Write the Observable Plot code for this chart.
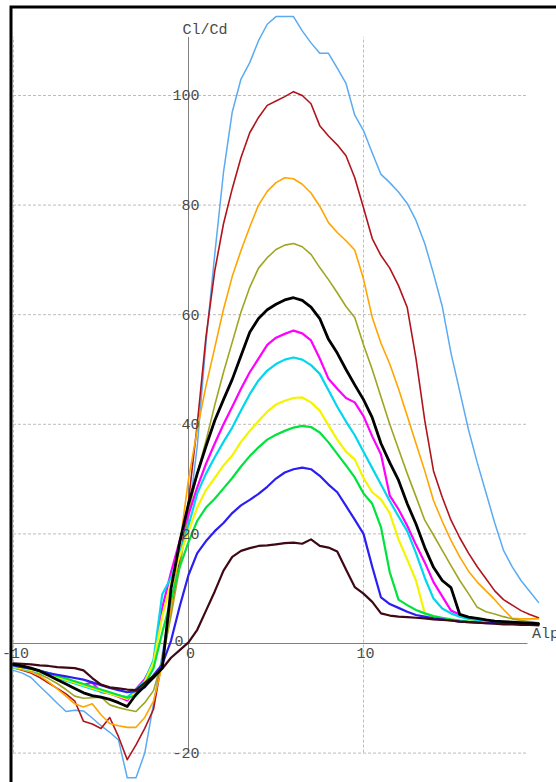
<!DOCTYPE html>
<html>
<head>
<meta charset="utf-8">
<script src="https://cdn.jsdelivr.net/npm/d3@7"></script>
<script src="https://cdn.jsdelivr.net/npm/@observablehq/plot@0.6"></script>
<style>
  html, body { margin: 0; padding: 0; background: #fff; }
  #chart svg { display: block; }
</style>
</head>
<body>
<div id="chart"></div>
<script>
// Angle of attack (deg), shared by every polar
const alpha = [-10,-9.5,-9,-8.5,-8,-7.5,-7,-6.5,-6,-5.5,-5,-4.5,-4,-3.5,-3,-2.5,-2,-1.5,-1,-0.5,
  0,0.5,1,1.5,2,2.5,3,3.5,4,4.5,5,5.5,6,6.5,7,7.5,8,8.5,9,9.5,10,10.5,11,11.5,12,12.5,13,13.5,14,14.5,
  15,15.5,16,16.5,17,17.5,18,18.5,19,19.5,20];

// Cl/Cd for each polar
const lightBlue = [-4.9,-5.4,-6.2,-7.8,-9.3,-10.9,-12.4,-12.2,-12.3,-13.6,-15.0,-16.2,-17.6,-24.5,-24.5,-20,-11,-2,8,15,
  23,36,55,71,86,97,103,106,110,113,114.4,114.4,114.4,111.8,109.6,107.7,107.7,105,102.2,96.4,
  93.6,89.5,85.6,84.1,82.4,80.3,77.2,73,67.5,61.5,53,46,39,33,27.5,22,17,14,11.5,9.5,7.5];
const darkRed = [-4.4,-4.9,-5.4,-6.2,-7.2,-8.2,-9.2,-10.5,-14.2,-14.7,-15.5,-13.5,-17,-21.2,-18.5,-15.5,-12,-3,6,15,
  26,40,56,68,76.6,83,88.7,93.2,96,98.2,99,99.8,100.7,100,98.5,94.5,92.6,91,89,85,
  79.5,73.9,70.8,68.5,65.3,61.3,52,40.7,31.5,26.7,22.5,19.3,16.5,14,11.8,9.6,8,7,6,5.3,4.7];
const orange = [-4.4,-4.8,-5.2,-5.9,-7,-8.3,-9.6,-11,-11.6,-11,-13,-14.6,-15,-15.3,-15.3,-13.5,-10.5,-4,6,18,
  30,39,47,54,61,67,71.7,76,80,82.5,84.1,85,84.8,83.8,82.2,79.8,76.8,75,73.5,71.8,
  66.5,59.5,54.8,51,46.5,41.5,36.5,31.5,26.1,22.3,18.8,15.8,13.2,11.2,9.6,8,6.2,4.6,4.5,4.5,4.5];
const olive = [-4.2,-4.5,-4.9,-5.6,-6.4,-7.3,-8.4,-9.6,-10,-9.9,-9.8,-11.2,-11.7,-12.1,-12.4,-10.8,-8.6,-3,5,14,
  24,31,37,43.5,49.5,55,60.5,65,68.5,70.4,71.9,72.7,73,72.4,71,68.6,66.4,64,61.5,59.5,
  54.5,50,45,40,35.5,31,26.8,22.5,19.8,17,14.2,11.5,9.1,6.6,5.8,5.4,4.9,4.5,4.2,4,3.8];
const black = [-3.8,-4.1,-4.5,-5,-5.8,-6.6,-7.4,-8.2,-9,-9.5,-9.8,-10.2,-10.8,-11.5,-9.3,-7.8,-6.2,-4.5,10,18.5,
  25.5,31,36,40.7,44.5,48.2,52.5,56.8,59.3,60.9,61.9,62.7,63.1,62.6,61.4,59.3,55.5,53,50,47.2,
  44.5,41.2,36.5,33,29.8,25.5,21.8,17.5,13.9,11.5,10.2,5.3,4.8,4.6,4.3,4.1,4,3.9,3.8,3.7,3.6];
const magenta = [-4.2,-4.4,-4.7,-5.1,-5.6,-6.1,-6.6,-7.1,-7.6,-7.1,-8.9,-9.1,-9.7,-10.4,-8.3,-6.5,-3.5,6.5,13,18.8,
  23.5,28.5,32.8,36.5,40,43.2,46.5,49.5,52,54.5,55.8,56.5,57.1,56.6,55.3,52,48.3,46.5,44.8,44,
  41.5,37.8,34.5,27,24.5,21.5,18,14.8,11.2,8.6,6,5.3,4.8,4.5,4.2,4,3.9,3.8,3.7,3.6,3.6];
const cyan = [-4.4,-4.6,-4.9,-5.3,-5.8,-6.3,-6.8,-7.3,-7.8,-8.3,-8.8,-9.1,-9.5,-9.8,-8.5,-6.8,-3,9,12,16.5,
  21.5,27.4,31,34,36.8,39.4,42.5,45.5,48,49.8,51,51.8,52.2,51.8,50.8,49.2,46.2,43.2,40.5,38,
  35,32,29,26,23.2,20.5,16.5,12,8.2,6.4,5.5,4.9,4.5,4.2,4,3.9,3.8,3.7,3.6,3.6,3.6];
const yellow = [-4.3,-4.5,-4.8,-5.2,-5.6,-6.1,-6.6,-7.1,-7.6,-8.1,-8.6,-9.1,-9.6,-10.1,-9,-7,-3.5,5,11,16,
  20.5,24.8,28,30.2,32.5,34.3,36.8,38.8,40.6,42.3,43.6,44.3,44.8,44.9,44,42.5,39.8,37.2,35,33.6,
  30.2,27.6,26.3,23.8,19,15.3,11.5,5.5,4.9,4.5,4.2,4.1,4,3.9,3.8,3.8,3.7,3.7,3.6,3.6,3.6];
const green = [-4.1,-4.3,-4.6,-5,-5.4,-5.9,-6.4,-6.9,-7.4,-7.9,-8.4,-8.9,-9.4,-9.9,-9.5,-7.5,-4.5,2,8,14,
  18.5,22.4,24.8,26.4,28.3,30.2,32.3,34.2,35.8,37.2,38.1,38.8,39.4,39.7,39.5,38.5,36.7,34.6,32.5,30.3,
  27.4,25.5,21.2,13,8,7,6.1,5.5,5,4.7,4.4,4.2,4,3.9,3.8,3.7,3.7,3.6,3.6,3.6,3.6];
const blue = [-4,-4.3,-4.6,-5,-5.4,-5.7,-6,-6.3,-6.6,-7.1,-7.6,-8.1,-8.5,-8.9,-8.7,-8,-5.8,-3.8,0.5,6.8,
  12.5,16.5,18.7,20.5,22,23.8,25.2,26.2,27.3,28.6,30.1,31.2,31.8,32.1,31.8,30.6,29,27.6,25.1,22.6,
  20,14,8.4,7.2,6.5,5.8,5.2,4.9,4.6,4.4,4.2,4,3.9,3.8,3.7,3.7,3.6,3.6,3.6,3.6,3.6];
const brown = [-3.6,-3.7,-3.8,-4,-4.1,-4.3,-4.4,-4.5,-4.9,-6.3,-7.5,-8,-8.2,-8.4,-8.5,-7.2,-5.9,-4.6,-2.6,-1.2,
  0.2,2.5,6,9.5,13.3,15.8,16.9,17.4,17.8,17.9,18.1,18.3,18.4,18.2,19,17.8,17.5,16.8,13.5,10.3,
  9.1,7.6,5.5,5.1,4.9,4.8,4.7,4.6,4.4,4.3,4.2,4,3.9,3.8,3.7,3.6,3.5,3.5,3.4,3.4,3.3];

// Axis ticks and grid
const xTicks = [-10, 0, 10];
const xGrid = [-10, 10];
const yGrid = [-20, 20, 40, 60, 80, 100];
const yTickLabels = [100, 80, 60, 40, 20, -20];
const yZeroLabel = [0];
const xAxisEnd = 19.4;
const yAxisTop = 110.6;

// Drawing order, colour and weight of each polar
const polars = [
  {values: lightBlue, color: "#5aabf2", width: 1.5},
  {values: darkRed,   color: "#b0141c", width: 1.6},
  {values: orange,    color: "#ffa500", width: 1.6},
  {values: olive,     color: "#9fa521", width: 1.6},
  {values: magenta,   color: "#ff00ff", width: 2.2},
  {values: cyan,      color: "#00d6ee", width: 2.2},
  {values: yellow,    color: "#f4f400", width: 2.2},
  {values: green,     color: "#00e23c", width: 2.2},
  {values: blue,      color: "#2a1ef2", width: 2.2},
  {values: brown,     color: "#3e0814", width: 2.2},
  {values: black,     color: "#000000", width: 2.8}
];

const lineMarks = polars.map(p =>
  Plot.line(alpha.map((a, i) => ({alpha: a, value: p.values[i]})), {
    x: "alpha", y: "value", stroke: p.color, strokeWidth: p.width, strokeLinejoin: "round"
  })
);

const gridStyle = {stroke: "#bdbdbd", strokeWidth: 1, strokeDasharray: "3,2"};
const labelFill = "#4a4a4a";

const chart = Plot.plot({
  width: 556,
  height: 782,
  margin: 0,
  x: {domain: [-10, 20], range: [13, 538], axis: null},
  y: {domain: [-20, 110], range: [752.6, 40.2], axis: null},
  style: {background: "#fff", fontFamily: "'Liberation Mono', 'Courier New', monospace", fontSize: "15px"},
  marks: [
    Plot.ruleY(yGrid, {x1: -10, x2: xAxisEnd, ...gridStyle}),
    Plot.ruleX(xGrid, {y1: -20, y2: yAxisTop, ...gridStyle}),
    Plot.ruleY([0], {x1: -10, x2: xAxisEnd, stroke: "#808080", strokeWidth: 1}),
    Plot.ruleX([0], {y1: -20, y2: yAxisTop, stroke: "#808080", strokeWidth: 1}),
    ...lineMarks,
    Plot.text(yTickLabels, {x: () => 0, y: d => d, text: d => String(d), textAnchor: "end", lineAnchor: "middle", dx: 11, fill: labelFill}),
    Plot.text(yZeroLabel, {x: () => 0, y: d => d, text: d => String(d), textAnchor: "end", lineAnchor: "middle", dx: -5, dy: -2, fill: labelFill}),
    Plot.text(xTicks, {x: d => d, y: () => 0, text: d => String(d), textAnchor: "middle", lineAnchor: "bottom", dx: 2, dy: 14, fill: labelFill}),
    Plot.text(["Cl/Cd"], {x: () => 0, y: () => yAxisTop, text: d => d, textAnchor: "start", lineAnchor: "bottom", dx: -6, dy: -3, fill: labelFill}),
    Plot.text(["Alpha"], {x: () => xAxisEnd, y: () => 0, text: d => d, textAnchor: "start", lineAnchor: "bottom", dx: 4, dy: -6, fill: labelFill}),
    Plot.frame({stroke: "#000", strokeWidth: 3, insetLeft: 10.5, insetTop: 6.5, insetRight: -20, insetBottom: -20})
  ]
});

document.getElementById("chart").append(chart);
</script>
</body>
</html>
